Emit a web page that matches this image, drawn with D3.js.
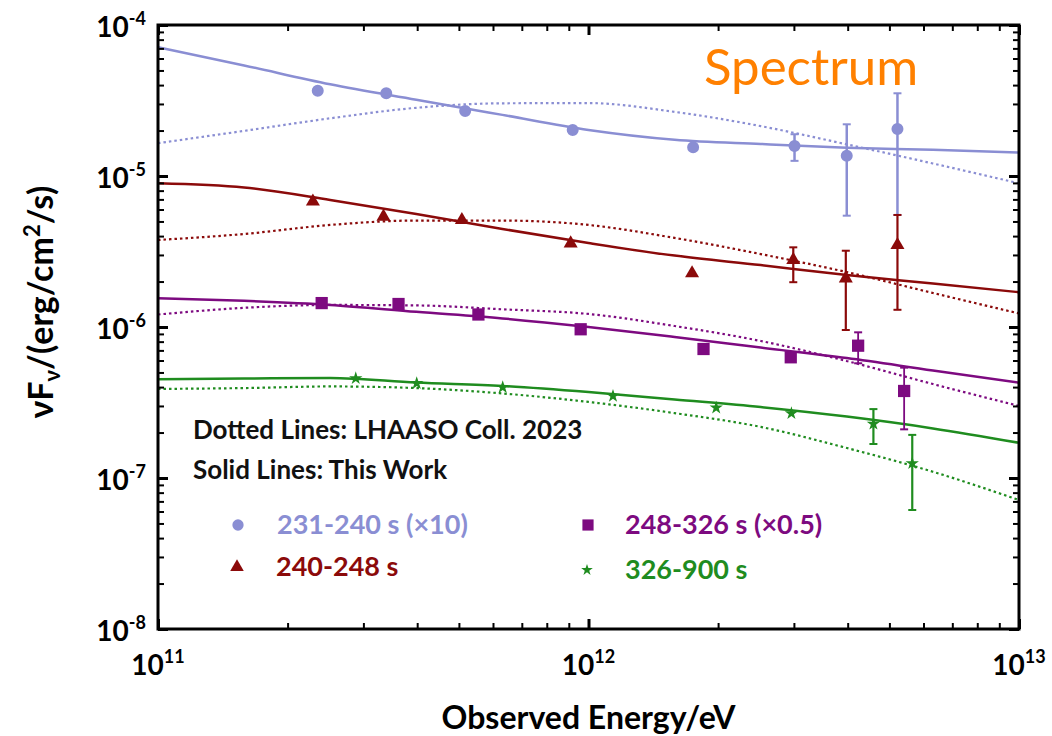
<!DOCTYPE html>
<html>
<head>
<meta charset="utf-8">
<script src="https://cdn.jsdelivr.net/npm/d3@7"></script>
<style>
  body { margin: 0; background: #fff; }
  svg { display: block; }
  text { font-family: Lato, "Open Sans", sans-serif; }
</style>
</head>
<body>
<svg id="chart" width="1052" height="736"></svg>
<script>
// ---- measured spectra: energy (eV) and nuF_nu (erg/cm^2/s) ----
const blueE = [2.35e11, 3.39e11, 5.17e11, 9.19e11, 1.75e12, 3.01e12, 3.98e12, 5.22e12];
const blueF = [3.67e-5, 3.53e-5, 2.69e-5, 2.02e-5, 1.55e-5, 1.58e-5, 1.36e-5, 2.05e-5];
const blueLo = [null, null, null, null, null, 1.26e-5, 5.46e-6, 5.52e-6];
const blueHi = [null, null, null, null, null, 1.89e-5, 2.20e-5, 3.53e-5];

const redE = [2.29e11, 3.34e11, 5.08e11, 9.09e11, 1.74e12, 2.99e12, 3.96e12, 5.22e12];
const redF = [6.78e-6, 5.38e-6, 5.11e-6, 3.58e-6, 2.27e-6, 2.78e-6, 2.10e-6, 3.49e-6];
const redLo = [null, null, null, null, null, 1.98e-6, 9.55e-7, 1.30e-6];
const redHi = [null, null, null, null, null, 3.37e-6, 3.20e-6, 5.52e-6];

const purpleE = [2.40e11, 3.62e11, 5.55e11, 9.59e11, 1.85e12, 2.95e12, 4.23e12, 5.41e12];
const purpleF = [1.44e-6, 1.42e-6, 1.21e-6, 9.66e-7, 7.15e-7, 6.30e-7, 7.52e-7, 3.77e-7];
const purpleLo = [null, null, null, null, null, null, 5.75e-7, 2.10e-7];
const purpleHi = [null, null, null, null, null, null, 9.22e-7, 5.38e-7];

const greenE = [2.88e11, 3.99e11, 6.32e11, 1.14e12, 1.98e12, 2.96e12, 4.59e12, 5.65e12];
const greenF = [4.57e-7, 4.24e-7, 3.99e-7, 3.49e-7, 2.92e-7, 2.68e-7, 2.28e-7, 1.25e-7];
const greenLo = [null, null, null, null, null, null, 1.68e-7, 6.14e-8];
const greenHi = [null, null, null, null, null, null, 2.86e-7, 1.93e-7];

// ---- model curves on a common energy grid ----
const modelE = [1e11, 1.585e11, 2.512e11, 3.981e11, 6.31e11, 1e12, 1.585e12, 2.512e12, 3.981e12, 6.31e12, 1e13];
const blueFit    = [7.12e-5, 5.40e-5, 4.05e-5, 3.20e-5, 2.54e-5, 2.02e-5, 1.74e-5, 1.63e-5, 1.54e-5, 1.49e-5, 1.43e-5];
const blueLhaaso = [1.65e-5, 1.99e-5, 2.41e-5, 2.83e-5, 3.03e-5, 3.04e-5, 2.66e-5, 2.14e-5, 1.62e-5, 1.21e-5, 8.95e-6];
const redFit     = [8.95e-6, 8.39e-6, 6.94e-6, 5.60e-6, 4.46e-6, 3.60e-6, 2.97e-6, 2.57e-6, 2.21e-6, 1.94e-6, 1.70e-6];
const redLhaaso  = [3.77e-6, 4.13e-6, 4.74e-6, 5.07e-6, 5.07e-6, 4.74e-6, 3.89e-6, 3.04e-6, 2.31e-6, 1.68e-6, 1.23e-6];
const purpleFit    = [1.55e-6, 1.49e-6, 1.40e-6, 1.26e-6, 1.14e-6, 1.00e-6, 8.59e-7, 7.31e-7, 6.23e-7, 5.15e-7, 4.28e-7];
const purpleLhaaso = [1.21e-6, 1.34e-6, 1.40e-6, 1.39e-6, 1.31e-6, 1.22e-6, 1.015e-6, 8.08e-7, 5.95e-7, 4.19e-7, 3.00e-7];
const greenFit    = [4.50e-7, 4.56e-7, 4.60e-7, 4.29e-7, 4.07e-7, 3.71e-7, 3.31e-7, 2.95e-7, 2.55e-7, 2.13e-7, 1.71e-7];
const greenLhaaso = [3.89e-7, 3.94e-7, 4.04e-7, 3.94e-7, 3.63e-7, 3.19e-7, 2.69e-7, 2.18e-7, 1.58e-7, 1.10e-7, 7.15e-8];

// ---- axis ticks ----
const xMajor = [1e11, 1e12, 1e13];
const xMajorExp = ["11", "12", "13"];
const yMajor = [1e-8, 1e-7, 1e-6, 1e-5, 1e-4];
const yMajorExp = ["-8", "-7", "-6", "-5", "-4"];
const minorMult = [2, 3, 4, 5, 6, 7, 8, 9];

// ---- legend entries ----
const seriesNames = ["231-240 s (\u00d710)", "240-248 s", "248-326 s (\u00d70.5)", "326-900 s"];
const seriesColors = ["#8a8ed3", "#8b0a0a", "#7d0a80", "#1f8c1f"];

const svg = d3.select("#chart");
const frameL = 158, frameR = 1019, frameT = 25, frameB = 629;

const x = d3.scaleLog().domain([1e11, 1e13]).range([frameL, frameR]);
const y = d3.scaleLog().domain([1e-8, 1e-4]).range([frameB, frameT]);

const xMinor = [], yMinor = [];
[1e11, 1e12].forEach(d => minorMult.forEach(m => xMinor.push(m * d)));
[1e-8, 1e-7, 1e-6, 1e-5].forEach(d => minorMult.forEach(m => yMinor.push(m * d)));

// ---- model curves ----
const line = d3.line().x(d => x(d[0])).y(d => y(d[1])).curve(d3.curveMonotoneX);
const curves = [
  [blueFit, blueLhaaso, 0], [redFit, redLhaaso, 1],
  [purpleFit, purpleLhaaso, 2], [greenFit, greenLhaaso, 3]
];
const curveG = svg.append("g");
curves.forEach(([fit, lh, i]) => {
  curveG.append("path")
    .attr("d", line(d3.zip(modelE, lh)))
    .attr("fill", "none").attr("stroke", seriesColors[i])
    .attr("stroke-width", 2.2).attr("stroke-dasharray", "2.5 3");
  curveG.append("path")
    .attr("d", line(d3.zip(modelE, fit)))
    .attr("fill", "none").attr("stroke", seriesColors[i])
    .attr("stroke-width", 2.5);
});

// ---- data points with error bars ----
const series = [
  { E: blueE, F: blueF, lo: blueLo, hi: blueHi, sym: d3.symbolCircle, size: 113, bw: 2.5 },
  { E: redE, F: redF, lo: redLo, hi: redHi, sym: d3.symbolTriangle, size: 85, bw: 2.2 },
  { E: purpleE, F: purpleF, lo: purpleLo, hi: purpleHi, sym: d3.symbolSquare, size: 150, bw: 1.8 },
  { E: greenE, F: greenF, lo: greenLo, hi: greenHi, sym: d3.symbolStar, size: 55, bw: 2.2 }
];
series.forEach((s, i) => {
  const g = svg.append("g").attr("fill", seriesColors[i]).attr("stroke", seriesColors[i]);
  s.E.forEach((e, j) => {
    if (s.lo[j] != null) {
      const cx = x(e), y1 = y(s.lo[j]), y2 = y(s.hi[j]);
      g.append("line").attr("x1", cx).attr("x2", cx).attr("y1", y1).attr("y2", y2).attr("stroke-width", s.bw);
      [y1, y2].forEach(yy => g.append("line")
        .attr("x1", cx - 4).attr("x2", cx + 4).attr("y1", yy).attr("y2", yy).attr("stroke-width", 2));
    }
  });
  g.selectAll("path.pt").data(d3.zip(s.E, s.F)).join("path")
    .attr("class", "pt")
    .attr("d", d3.symbol().type(s.sym).size(s.size))
    .attr("transform", d => `translate(${x(d[0])},${y(d[1])})`)
    .attr("stroke", "none");
});

// ---- axes: inward ticks on all four sides ----
function ticks(axisFn, scale, vals, len, w, tr) {
  const g = svg.append("g").attr("transform", tr)
    .call(axisFn(scale).tickValues(vals).tickSize(-len).tickFormat(""));
  g.select(".domain").remove();
  g.selectAll(".tick line").attr("stroke", "#000").attr("stroke-width", w);
  return g;
}
ticks(d3.axisBottom, x, xMajor, 10, 3, `translate(0,${frameB})`);
ticks(d3.axisBottom, x, xMinor, 6, 2, `translate(0,${frameB})`);
ticks(d3.axisTop, x, xMajor, 10, 3, `translate(0,${frameT})`);
ticks(d3.axisTop, x, xMinor, 6, 2, `translate(0,${frameT})`);
ticks(d3.axisLeft, y, yMajor, 10, 3, `translate(${frameL},0)`);
ticks(d3.axisLeft, y, yMinor, 6, 2, `translate(${frameL},0)`);
ticks(d3.axisRight, y, yMajor, 10, 3, `translate(${frameR},0)`);
ticks(d3.axisRight, y, yMinor, 6, 2, `translate(${frameR},0)`);

svg.append("rect")
  .attr("x", frameL).attr("y", frameT).attr("width", frameR - frameL).attr("height", frameB - frameT)
  .attr("fill", "none").attr("stroke", "#000").attr("stroke-width", 3);

// tick labels as 10 with a superscript exponent
function powerLabel(t, exp) {
  t.append("tspan").text("10");
  t.append("tspan").attr("font-size", 18).attr("dy", -12).text(exp);
}
xMajor.forEach((v, i) => {
  const t = svg.append("text").attr("x", x(v)).attr("y", 675)
    .attr("text-anchor", "middle").attr("font-size", 28).attr("font-weight", 700);
  powerLabel(t, xMajorExp[i]);
});
yMajor.forEach((v, i) => {
  const t = svg.append("text").attr("x", 146).attr("y", y(v) + 11.5)
    .attr("text-anchor", "end").attr("font-size", 28).attr("font-weight", 700);
  powerLabel(t, yMajorExp[i]);
});

// axis titles
svg.append("text").attr("x", (frameL + frameR) / 2).attr("y", 729)
  .attr("text-anchor", "middle").attr("font-size", 32).attr("font-weight", 700)
  .text("Observed Energy/eV");

const yt = svg.append("text")
  .attr("transform", `translate(53,${(frameT + frameB) / 2 - 25}) rotate(-90)`)
  .attr("text-anchor", "middle").attr("font-size", 34).attr("font-weight", 700);
yt.append("tspan").text("\u03bdF");
yt.append("tspan").attr("font-size", 22).attr("dy", 7).text("\u03bd");
yt.append("tspan").attr("dy", -7).text("/(erg/cm");
yt.append("tspan").attr("font-size", 22).attr("dy", -13).text("2");
yt.append("tspan").attr("dy", 13).text("/s)");

// title inside the frame
svg.append("text").attr("x", 704).attr("y", 85)
  .attr("font-family", "'Liberation Sans', Arial, sans-serif")
  .attr("font-size", 51).attr("fill", "#ff8000").text("Spectrum");

// notes
svg.append("text").attr("x", 193).attr("y", 439)
  .attr("font-size", 26).attr("font-weight", 700).attr("fill", "#111")
  .text("Dotted Lines: LHAASO Coll. 2023");
svg.append("text").attr("x", 193).attr("y", 479)
  .attr("font-size", 26).attr("font-weight", 700).attr("fill", "#111")
  .text("Solid Lines: This Work");

// legend
const legendPos = [[238, 525, 277], [237, 567, 276], [588, 525, 625], [587, 570, 625]];
const legendSym = [[d3.symbolCircle, 100], [d3.symbolTriangle, 80], [d3.symbolSquare, 125], [d3.symbolStar, 42]];
seriesNames.forEach((name, i) => {
  const [mx, my, tx] = legendPos[i];
  svg.append("path")
    .attr("d", d3.symbol().type(legendSym[i][0]).size(legendSym[i][1]))
    .attr("transform", `translate(${mx},${my})`).attr("fill", seriesColors[i]);
  svg.append("text").attr("x", tx).attr("y", my + 9)
    .attr("font-size", 27).attr("font-weight", 700).attr("fill", seriesColors[i])
    .text(name);
});
</script>
</body>
</html>
